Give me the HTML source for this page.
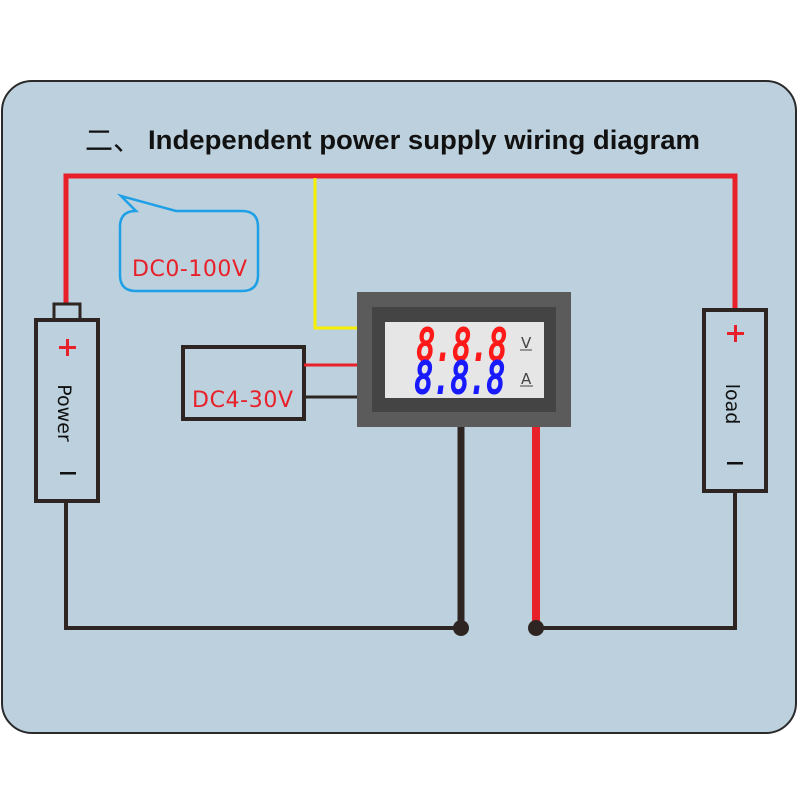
<!DOCTYPE html>
<html><head><meta charset="utf-8"><style>
html,body{margin:0;padding:0;background:#fff;width:800px;height:800px;overflow:hidden}
</style></head><body>
<svg width="800" height="800" viewBox="0 0 800 800" xmlns="http://www.w3.org/2000/svg">
<rect x="2" y="81" width="794" height="652" rx="30" fill="#bcd1dd" stroke="#2a2a2a" stroke-width="2"/>
<text x="85" y="150" font-family="Noto Sans CJK SC, sans-serif" font-size="28" fill="#111">二、</text>
<text x="148" y="149" font-family="Liberation Sans, sans-serif" font-size="27" font-weight="bold" fill="#111" textLength="552" lengthAdjust="spacingAndGlyphs">Independent power supply wiring diagram</text>
<polyline points="66,305 66,176 735,176 735,310" fill="none" stroke="#e8202a" stroke-width="5"/>
<polyline points="315,178 315,328 357,328" fill="none" stroke="#f5f000" stroke-width="3"/>
<path d="M136,211 L121,196 L176,211 L242,211 Q258,211 258,227 L258,275 Q258,291 242,291 L136,291 Q120,291 120,275 L120,227 Q120,211 136,211 Z" fill="none" stroke="#1fa0e6" stroke-width="2.5"/>
<text x="132" y="276" font-family="DejaVu Sans, Liberation Sans, sans-serif" font-size="22" fill="#e8202a" textLength="115">DC0-100V</text>
<rect x="54" y="304" width="26" height="16" fill="none" stroke="#2e2523" stroke-width="3"/>
<rect x="36" y="320" width="62" height="181" fill="none" stroke="#2e2523" stroke-width="4"/>
<rect x="59" y="346" width="17" height="3" fill="#e8202a"/><rect x="66" y="339" width="3" height="17" fill="#e8202a"/>
<text transform="translate(58,413) rotate(90)" text-anchor="middle" font-family="DejaVu Sans, sans-serif" font-size="19" fill="#111">Power</text>
<rect x="60" y="472" width="16" height="2.5" fill="#111"/>
<rect x="704" y="310" width="62" height="181" fill="none" stroke="#2e2523" stroke-width="4"/>
<rect x="727" y="332" width="17" height="3" fill="#e8202a"/><rect x="734" y="325" width="3" height="17" fill="#e8202a"/>
<text transform="translate(726,404) rotate(90)" text-anchor="middle" font-family="DejaVu Sans, sans-serif" font-size="19" fill="#111">load</text>
<rect x="727" y="462" width="16" height="2.5" fill="#111"/>
<rect x="183" y="347" width="121" height="72" fill="none" stroke="#2e2523" stroke-width="4"/>
<text x="192" y="407" font-family="DejaVu Sans, Liberation Sans, sans-serif" font-size="22" fill="#e8202a" textLength="101">DC4-30V</text>
<line x1="304" y1="365" x2="357" y2="365" stroke="#e8202a" stroke-width="3"/>
<line x1="304" y1="397" x2="357" y2="397" stroke="#2e2523" stroke-width="3"/>
<rect x="357" y="292" width="214" height="135" fill="#5b5b5b"/>
<rect x="372" y="307" width="184" height="105" fill="#444"/>
<rect x="385" y="322" width="159" height="76" fill="#e6e6e6"/>
<text x="417" y="360" font-family="DejaVu Sans Mono, monospace" font-style="italic" font-size="44" fill="#ff1a1a" stroke="#ff1a1a" stroke-width="2" textLength="90" lengthAdjust="spacingAndGlyphs">8.8.8</text>
<text x="415" y="393" font-family="DejaVu Sans Mono, monospace" font-style="italic" font-size="44" fill="#1a1aff" stroke="#1a1aff" stroke-width="2" textLength="90" lengthAdjust="spacingAndGlyphs">8.8.8</text>
<text x="521" y="348" font-family="DejaVu Sans, sans-serif" font-size="15" fill="#444">V</text>
<line x1="520" y1="350" x2="532" y2="350" stroke="#444" stroke-width="1"/>
<text x="521" y="384" font-family="DejaVu Sans, sans-serif" font-size="15" fill="#444">A</text>
<line x1="520" y1="386" x2="533" y2="386" stroke="#444" stroke-width="1"/>
<polyline points="66,501 66,628 461,628" fill="none" stroke="#2e2523" stroke-width="4"/>
<line x1="461" y1="427" x2="461" y2="628" stroke="#2e2523" stroke-width="7"/>
<line x1="536" y1="427" x2="536" y2="628" stroke="#e8202a" stroke-width="8"/>
<polyline points="536,628 735,628 735,491" fill="none" stroke="#2e2523" stroke-width="4"/>
<circle cx="461" cy="628" r="8" fill="#2e2523"/>
<circle cx="536" cy="628" r="8" fill="#2e2523"/>
</svg>
</body></html>
